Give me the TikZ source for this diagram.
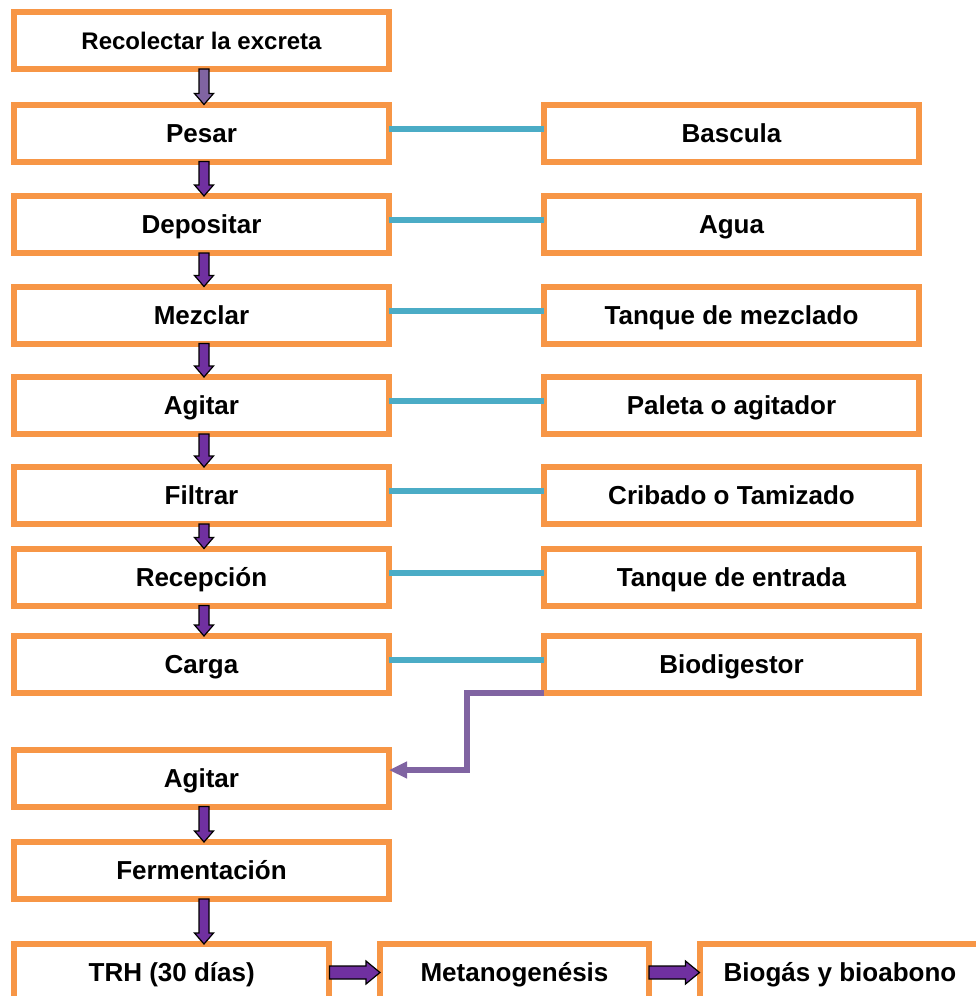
\documentclass[tikz,border=0pt]{standalone}
\usepackage{fontspec}
\setmainfont{Liberation Sans}
\usetikzlibrary{arrows.meta,calc}
\definecolor{borde}{RGB}{247,150,70}
\definecolor{enlace}{RGB}{75,172,198}
\definecolor{morado}{RGB}{112,48,160}
\definecolor{lila}{RGB}{128,100,162}
\tikzset{
  pbox/.style={draw=borde, line width=4.5pt, fill=white, inner sep=0pt, outer sep=0pt,
      minimum width=281.25pt, minimum height=42.75pt, text height=14pt, text depth=0pt,
      font=\bfseries\fontsize{19.5}{23}\selectfont},
  lnk/.style={enlace, line width=4.5pt},
  bak/.style={lila, line width=4.5pt, -{Triangle[length=13.5pt,width=12pt]}},
  arrv/.style={draw=black, line width=0.9pt, fill=morado, line join=miter},
  arrl/.style={arrv, fill=lila},
}
% fat block arrows between two boxes (vertical one keeps the upper box's x)
\newcommand{\flowdown}[3][arrv]{%
  \coordinate (fd) at (#2.south |- #3.north);
  \draw[#1] ($(#2.south)+(-2.5,0)$) -- ($(fd)+(-2.5,-11)$) -- ($(fd)+(-7,-11)$)
    -- ($(fd)+(2.5,0)$) -- ($(fd)+(12,-11)$) -- ($(fd)+(7.5,-11)$)
    -- ($(#2.south)+(7.5,0)$) -- cycle;}
\newcommand{\flowright}[3][arrv]{%
  \draw[#1] ($(#2.east)+(0,-6.5)$) -- ($(#3.west)+(-14,-6.5)$) -- ($(#3.west)+(-14,-11.5)$)
    -- (#3.west) -- ($(#3.west)+(-14,11.5)$) -- ($(#3.west)+(-14,6.5)$)
    -- ($(#2.east)+(0,6.5)$) -- cycle;}

\begin{document}
\begin{tikzpicture}[x=0.75pt, y=-0.75pt]
  \fill[white, use as bounding box] (0,0) rectangle (975,996);
  % process steps
  \node[pbox, minimum height=42.4pt, text height=13pt, font=\bfseries\fontsize{18}{21}\selectfont]
    (recolectar) at (201.5,40.75) {Recolectar la excreta};
  \node[pbox] (pesar) at (201.5,133) {Pesar};
  \node[pbox] (depositar) at (201.5,224.5) {Depositar};
  \node[pbox] (mezclar) at (201.5,315) {Mezclar};
  \node[pbox] (agitar) at (201.5,405.5) {Agitar};
  \node[pbox] (filtrar) at (201.5,495.5) {Filtrar};
  \node[pbox] (recepcion) at (201.5,577) {Recepción};
  \node[pbox] (carga) at (201.5,664.5) {Carga};
  \node[pbox] (agitarb) at (201.5,778) {Agitar};
  \node[pbox] (fermentacion) at (201.5,870.5) {Fermentación};
  % equipment
  \node[pbox] (bascula) at (731.5,133) {Bascula};
  \node[pbox] (agua) at (731.5,224.5) {Agua};
  \node[pbox] (tanque) at (731.5,315) {Tanque de mezclado};
  \node[pbox] (paleta) at (731.5,405.5) {Paleta o agitador};
  \node[pbox] (cribado) at (731.5,495.5) {Cribado o Tamizado};
  \node[pbox] (tanqent) at (731.5,577) {Tanque de entrada};
  \node[pbox] (biodig) at (731.5,664.5) {Biodigestor};
  % products
  \node[pbox, minimum width=236.6pt] (trh) at (171.75,972.5) {TRH (30 días)};
  \node[pbox, minimum width=201.75pt] (metano) at (514.5,972.5) {Metanogenésis};
  \node[pbox, minimum width=210.75pt] (biogas) at (840,972.5) {Biogás y bioabono};

  \foreach \a/\b in {pesar/bascula, depositar/agua, mezclar/tanque, agitar/paleta,
      filtrar/cribado, recepcion/tanqent, carga/biodig}
    \draw[lnk] ([yshift=3.2pt]\a.east) -- ([yshift=3.2pt]\b.west);

  \coordinate (codo) at ($(biodig.south west)!.5!([yshift=6pt]agitarb.east)$);
  \draw[bak] (biodig.south west) -| (codo) |- ([yshift=6pt]agitarb.east);

  \flowdown[arrl]{recolectar}{pesar}
  \foreach \a/\b in {pesar/depositar, depositar/mezclar, mezclar/agitar, agitar/filtrar,
      filtrar/recepcion, recepcion/carga, agitarb/fermentacion, fermentacion/trh}
    \flowdown{\a}{\b};
  \flowright{trh}{metano}
  \flowright{metano}{biogas}
\end{tikzpicture}
\end{document}
